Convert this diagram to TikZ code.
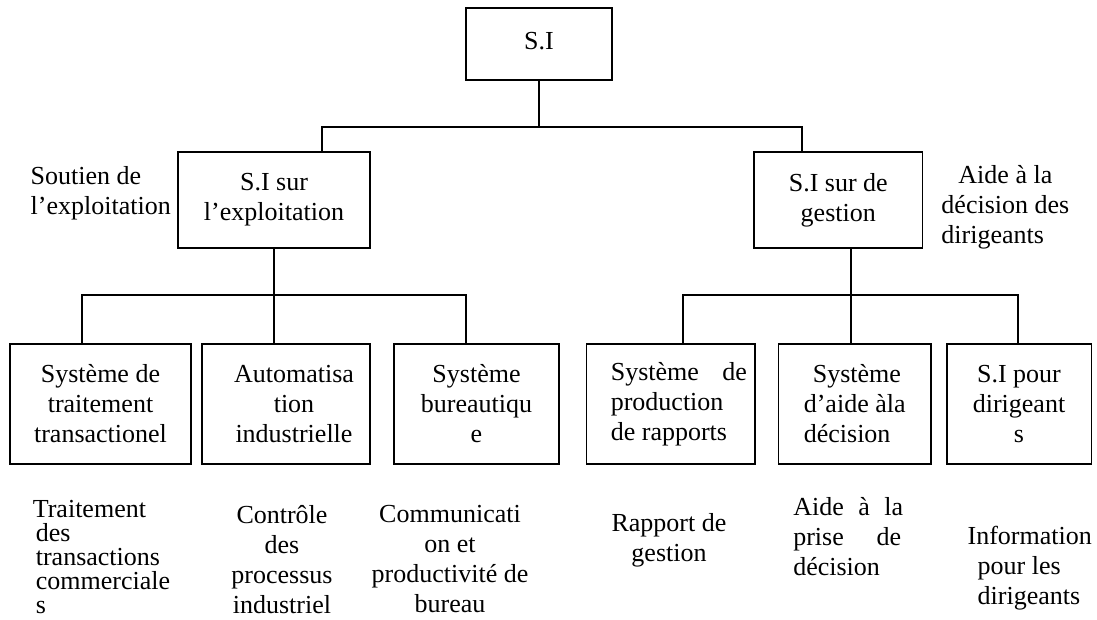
\documentclass[tikz,border=0pt]{standalone}
\usepackage{fontspec}
\setmainfont{Liberation Serif}
\newcommand\fsz{\fontsize{26}{30}\selectfont}
\newcommand\sh[1]{\hspace*{#1}}
\begin{document}
\begin{tikzpicture}[x=1pt,y=-1pt,line width=1.7pt,
  box/.style={draw, inner sep=0pt, align=center, font=\fsz},
  lvthree/.style={box, minimum height=120pt},
  txt/.style={inner sep=0pt, font=\fsz}]
\fill[white] (0,0) rectangle (1097,619);
\useasboundingbox (0,0) rectangle (1097,619);
% boxes
\node[box, minimum width=146pt, minimum height=72pt] (si) at (539,44) {\raisebox{6pt}{S.I}};
\node[box, minimum width=192pt, minimum height=96pt] (l2a) at (274,200) {S.I sur\\l’exploitation};
\node[box, minimum width=168.5pt, minimum height=96pt] (l2b) at (838.25,200) {S.I sur de\\gestion};
\node[lvthree, minimum width=181pt] (b1) at (100.5,404) {Système de\\traitement\\transactionel};
\node[lvthree, minimum width=168pt] (b2) at (286,404) {\sh{16pt}Automatisa\\\sh{16pt}tion\\\sh{16pt}industrielle};
\node[lvthree, minimum width=165pt] (b3) at (476.5,404) {Système\\bureautiqu\\e};
\node[lvthree, minimum width=168.4pt, align=left] (b4) at (670.8,404) {\sh{16pt}\makebox[136pt][s]{Système de}\\\sh{16pt}production\\\sh{16pt}de rapports};
\node[lvthree, minimum width=152.4pt, align=left] (b5) at (854.7,404) {\sh{9pt}Système\\d’aide àla\\décision};
\node[lvthree, minimum width=144.7pt] (b6) at (1019,404) {S.I pour\\dirigeant\\s};
% connectors
\coordinate (tb) at (539,128);
\draw (si.south) -- (tb);
\draw ([xshift=48pt]l2a.north) -- ++(0,-24) -| ([xshift=-36.25pt]l2b.north);
\draw ([xshift=-18.5pt]b1.north) -- ++(0,-48) -| ([xshift=-10.5pt]b3.north);
\draw (l2a.south) -- ([xshift=-12pt]b2.north);
\draw ([xshift=12.2pt]b4.north) -- ++(0,-48) -| ([xshift=-1pt]b6.north);
\draw ([xshift=12.75pt]l2b.south) -- ([xshift=-3.7pt]b5.north);
% side texts
\node[txt, anchor=west, align=left] (sout) at (29.8,193) {Soutien de\\l’exploitation};
\node[txt, anchor=west, align=left] (aide) at (940.6,207) {\sh{17pt}Aide à la\\décision des\\dirigeants};
% bottom texts
\node[txt, anchor=west, align=left, font=\fontsize{26}{24}\selectfont] (t1) at (32,557) {Traitement\\\sh{3pt}des\\\sh{3pt}transactions\\\sh{3pt}commerciale\\\sh{3pt}s};
\node[txt, align=center] (t2) at (282,559.5) {Contrôle\\des\\processus\\industriel};
\node[txt, align=center] (t3) at (450,559) {Communicati\\on et\\productivité de\\bureau};
\node[txt, align=center] (t4) at (669,540) {Rapport de\\gestion};
\node[txt, anchor=west, align=left] (t5) at (792.4,537) {\makebox[110pt][s]{Aide à la}\\\makebox[108pt][s]{prise de}\\décision};
\node[txt, anchor=west, align=left] (t6) at (966.8,568) {Information\\\sh{10pt}pour les\\\sh{10pt}dirigeants};
\end{tikzpicture}
\end{document}
